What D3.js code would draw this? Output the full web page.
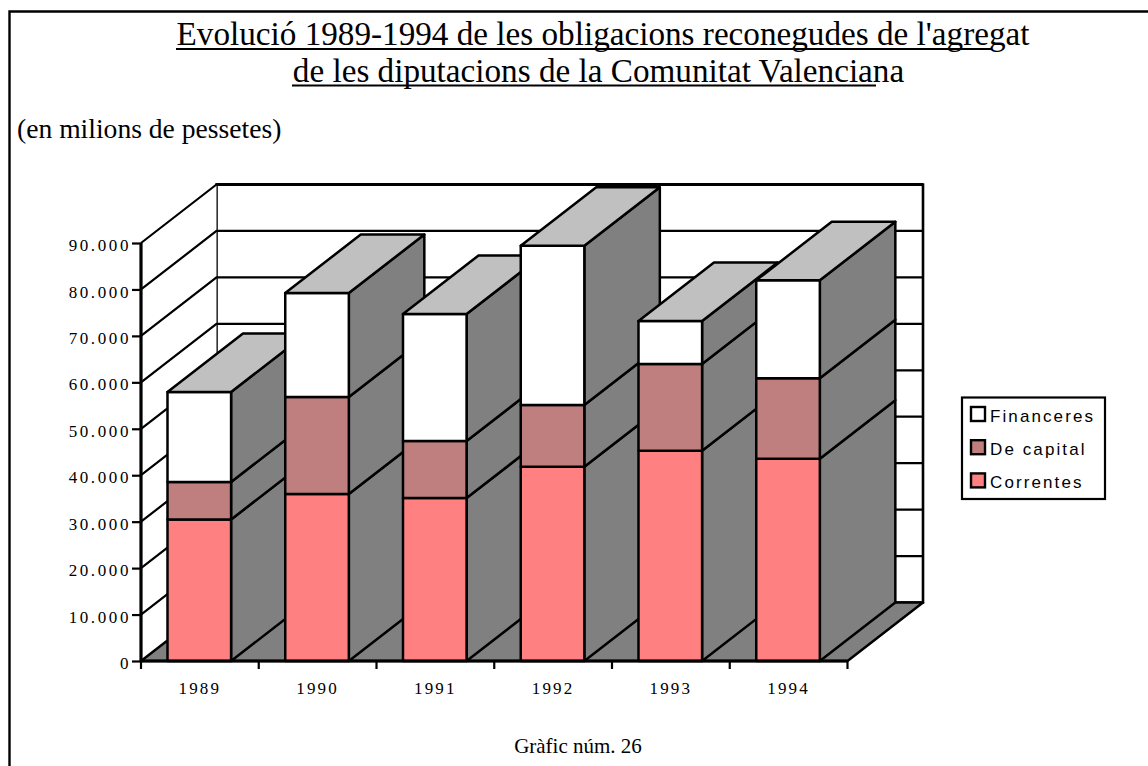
<!DOCTYPE html>
<html><head><meta charset="utf-8">
<script src="https://cdn.jsdelivr.net/npm/d3@7/dist/d3.min.js"></script>
<style>html,body{margin:0;padding:0;background:#fff;overflow:hidden}svg{display:block}</style>
</head><body><svg id="c" width="1148" height="766"></svg>
<script>
const years = ["1989","1990","1991","1992","1993","1994"];
const corrents = [30470,35960,35100,41830,45280,43560];
const capital = [8070,20880,12270,13290,18670,17310];
const financeres = [19380,22390,27340,34300,9250,21100];
const seriesNames = ["Correntes","De capital","Financeres"];
const seriesColors = ["#ff8080","#bf7f7f","#ffffff"];
const yTicks = [0,10000,20000,30000,40000,50000,60000,70000,80000,90000];
const titleLines = ["Evolució 1989-1994 de les obligacions reconegudes de l'agregat","de les diputacions de la Comunitat Valenciana"];
const subtitle = "(en milions de pessetes)";
const caption = "Gràfic núm. 26";

const svg = d3.select("#c");
const SERIF = "'Liberation Serif',serif", SANS = "'Liberation Sans',sans-serif";
const DX = 75.5, DY = 58.5;
const x = d3.scaleBand().domain(years).range([141,847.5]);
const y = d3.scaleLinear().domain([0,90000]).range([661,243]);
const fmt = d3.formatLocale({decimal:",",thousands:".",grouping:[3],currency:["",""]}).format(",d");

// outer frame
svg.append("path").attr("d","M9.5,766V11.5H1148").attr("fill","none").attr("stroke","#000").attr("stroke-width",2.4);

// titles
svg.selectAll("text.t").data(titleLines).join("text").attr("class","t")
  .attr("x",(d,i)=>i?598.5:603).attr("y",(d,i)=>i?81.7:45).attr("text-anchor","middle")
  .attr("font-family",SERIF).attr("font-size",33.2).attr("fill","#000").text(d=>d);
[[176,992,49],[292,876,85.6]].forEach(u=>svg.append("line").attr("x1",u[0]).attr("x2",u[1]).attr("y1",u[2]).attr("y2",u[2]).attr("stroke","#000").attr("stroke-width",2));
svg.append("text").attr("x",17).attr("y",137.5).attr("font-family",SERIF).attr("font-size",27.6).text(subtitle);
svg.append("text").attr("x",578).attr("y",753).attr("text-anchor","middle").attr("font-family",SERIF).attr("font-size",21).text(caption);

// walls and floor
const x0 = x.range()[0], x1 = x.range()[1], y0 = y(0), yT = y(90000);
const poly = pts => "M"+pts.map(p=>p.join(",")).join("L")+"Z";
svg.append("path").attr("d",poly([[x0+DX,yT-DY],[x1+DX,yT-DY],[x1+DX,y0-DY],[x0+DX,y0-DY]])).attr("fill","#fff").attr("stroke","#000").attr("stroke-width",2.6);
svg.append("path").attr("d",poly([[x0,y0],[x0+DX,y0-DY],[x0+DX,yT-DY],[x0,yT]])).attr("fill","#fff").attr("stroke","none");
svg.append("path").attr("d",poly([[x0,y0],[x1,y0],[x1+DX,y0-DY],[x0+DX,y0-DY]])).attr("fill","#808080").attr("stroke","#000").attr("stroke-width",2.5).attr("stroke-linejoin","round");
const grid = svg.append("g").attr("fill","none").attr("stroke","#000").attr("stroke-width",2.2);
grid.selectAll("path").data(yTicks.slice(1)).join("path")
  .attr("d",d=>`M${x0},${y(d)}L${x0+DX},${y(d)-DY}L${x1+DX},${y(d)-DY}`);
grid.append("path").attr("d",`M${x0+DX},${yT-DY}H${x1+DX}`).attr("stroke-width",3);

// bars
const bw = x.step()*0.54, off = x.step()*0.225;
const bars = svg.append("g").attr("stroke","#000").attr("stroke-width",2.5).attr("stroke-linejoin","round");
const seriesValues = [corrents,capital,financeres];
years.forEach((yr,i)=>{
  const l = x(yr)+off, r = l+bw;
  let acc = 0;
  const g = bars.append("g");
  seriesValues.forEach((vals,s)=>{
    const a = y(acc), b = y(acc+vals[i]);
    g.append("path").attr("d",poly([[r,a],[r+DX,a-DY],[r+DX,b-DY],[r,b]])).attr("fill","#808080");
    g.append("rect").attr("x",l).attr("y",b).attr("width",bw).attr("height",a-b).attr("fill",seriesColors[s]);
    acc += vals[i];
  });
  const t = y(acc);
  g.append("path").attr("d",poly([[l,t],[r,t],[r+DX,t-DY],[l+DX,t-DY]])).attr("fill","#c0c0c0");
});

// axes
const ax = svg.append("g").attr("transform",`translate(${x0},0)`)
  .call(d3.axisLeft(y).tickValues(yTicks).tickFormat(fmt).tickSize(9).tickPadding(1));
ax.select(".domain").attr("stroke-width",3.2).attr("d",`M0,${y0}V${yT}`);
ax.selectAll(".tick line").attr("stroke-width",2.2);
ax.selectAll("text").attr("font-family",SERIF).attr("font-size",17).attr("letter-spacing",2.6).attr("fill","#000").attr("dy","0.45em");

const bx = svg.append("g").attr("transform",`translate(0,${y0})`)
  .call(d3.axisBottom(x).tickSize(0).tickPadding(21).tickSizeOuter(0));
bx.select(".domain").attr("stroke-width",3.2).attr("d",`M${x0},0H${x1}`);
bx.selectAll("text").attr("font-family",SERIF).attr("font-size",17).attr("letter-spacing",2.2).attr("fill","#000");
bx.selectAll("line.b").data(years.concat("end")).join("line").attr("class","b")
  .attr("x1",d=>d==="end"?x1:x(d)).attr("x2",d=>d==="end"?x1:x(d)).attr("y1",0).attr("y2",8)
  .attr("stroke","#000").attr("stroke-width",2.2);

// legend
const lg = svg.append("g");
lg.append("rect").attr("x",962).attr("y",397.5).attr("width",143).attr("height",101.5).attr("fill","#fff").attr("stroke","#000").attr("stroke-width",2.2);
const order = [2,1,0];
order.forEach((s,k)=>{
  const ty = 407+k*33.2;
  lg.append("rect").attr("x",971).attr("y",ty).attr("width",14).attr("height",14).attr("fill",seriesColors[s]).attr("stroke","#000").attr("stroke-width",2.4);
  lg.append("text").attr("x",990).attr("y",ty+15).attr("font-family",SANS).attr("font-size",17).attr("letter-spacing",2.1).attr("fill","#000").text(seriesNames[s]);
});
</script></body></html>
